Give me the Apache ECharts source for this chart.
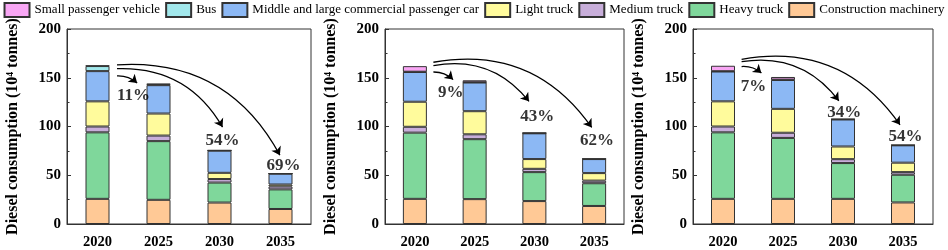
<!DOCTYPE html>
<html>
<head>
<meta charset="utf-8">
<script src="https://cdn.jsdelivr.net/npm/echarts@6/dist/echarts.min.js"></script>
<style>
  html, body { margin: 0; padding: 0; background: #fff; }
  #main { width: 948px; height: 250px; }
</style>
</head>
<body>
<div id="main"></div>
<script>
// categories
const years = ['2020', '2025', '2030', '2035'];
const seriesNames = ['Construction machinery', 'Heavy truck', 'Medium truck', 'Light truck',
  'Middle and large commercial passenger car', 'Bus', 'Small passenger vehicle'];
const legendOrder = ['Small passenger vehicle', 'Bus', 'Middle and large commercial passenger car',
  'Light truck', 'Medium truck', 'Heavy truck', 'Construction machinery'];

// panel 1
const constructionA = [25.8, 24.8, 22.0, 15.4];
const heavyA = [68.2, 60.2, 20.5, 20.1];
const mediumA = [6.0, 5.7, 3.6, 3.0];
const lightA = [25.8, 22.6, 6.4, 2.0];
const midLargeA = [31.0, 29.1, 22.7, 11.1];
const busA = [5.2, 0.7, 0.2, 0.1];
const smallA = [0.5, 0.7, 0.2, 0.1];
const reductionA = ['11%', '54%', '69%'];

// panel 2
const constructionB = [25.8, 25.5, 23.5, 18.5];
const heavyB = [67.9, 61.5, 29.7, 23.3];
const mediumB = [6.0, 5.0, 3.4, 2.7];
const lightB = [25.7, 23.7, 10.0, 7.7];
const midLargeB = [30.5, 29.4, 26.4, 14.4];
const busB = [0.3, 0.3, 0.2, 0.1];
const smallB = [5.7, 2.0, 0.2, 0.1];
const reductionB = ['9%', '43%', '62%'];

// panel 3
const constructionC = [25.8, 25.8, 25.8, 22.1];
const heavyC = [68.2, 62.5, 36.7, 28.4];
const mediumC = [6.0, 5.3, 4.0, 2.7];
const lightC = [25.8, 24.5, 13.0, 9.7];
const midLargeC = [30.6, 29.6, 27.7, 17.8];
const busC = [0.3, 0.4, 0.2, 0.1];
const smallC = [5.6, 2.7, 0.2, 0.1];
const reductionC = ['7%', '34%', '54%'];

// y axis ticks
const yTicks = [0, 50, 100, 150, 200];

const colors = ['#FFC996', '#7FD79B', '#C8AEDA', '#FFFB9C', '#8CB8F4', '#A2E8EC', '#F8A6F4'];

// annotation placement (category index / value units) : arrows and % labels
const arrowPos = [
  [[[0.32, 151.9], [0.65, 144.6], 0.2], [[0.32, 159.3], [2.05, 99.4], 0.3], [[0.32, 163.3], [2.99, 70.6], 0.32]],
  [[[0.31, 155.9], [0.64, 148.1], 0.2], [[0.31, 162.5], [1.91, 125.8], 0.3], [[0.31, 165.9], [2.96, 99.0], 0.32]],
  [[[0.31, 161.5], [0.64, 154.9], 0.2], [[0.31, 166.5], [1.93, 126.4], 0.3], [[0.31, 168.9], [2.95, 101.7], 0.32]]
];
const labelPos = [
  [[0.59, 131.2], [2.05, 85.7], [3.05, 59.6]],
  [[0.60, 135.1], [2.05, 109.7], [3.05, 85.7]],
  [[0.51, 140.8], [2.02, 114.7], [3.04, 90.0]]
];

const panels = [
  { data: [constructionA, heavyA, mediumA, lightA, midLargeA, busA, smallA], red: reductionA, left: 67, right: 637 },
  { data: [constructionB, heavyB, mediumB, lightB, midLargeB, busB, smallB], red: reductionB, left: 385, right: 324 },
  { data: [constructionC, heavyC, mediumC, lightC, midLargeC, busC, smallC], red: reductionC, left: 693, right: 15 }
];

const font = 'Liberation Serif';
const axisColor = '#333';

const grid = [], xAxis = [], yAxis = [], series = [];

panels.forEach(function (p, i) {
  grid.push({ left: p.left, right: p.right, top: 29, bottom: 21, show: true,
    borderColor: axisColor, borderWidth: 1, backgroundColor: 'transparent' });
  xAxis.push({
    type: 'category', gridIndex: i, data: years, boundaryGap: true,
    axisLine: { lineStyle: { color: axisColor, width: 1 } },
    axisTick: { inside: true, alignWithLabel: true, length: 3, lineStyle: { color: axisColor } },
    axisLabel: { color: '#000', fontFamily: font, fontWeight: 'bold', fontSize: 14.5, margin: 11 }
  });
  yAxis.push({
    type: 'value', gridIndex: i, min: yTicks[0], max: yTicks[yTicks.length - 1], interval: yTicks[1] - yTicks[0],
    name: 'Diesel consumption (10\u2074 tonnes)', nameLocation: 'middle', nameGap: 46,
    nameTextStyle: { color: '#000', fontFamily: font, fontWeight: 'bold', fontSize: 16 },
    axisLine: { show: true, onZero: false, lineStyle: { color: axisColor, width: 1 } },
    axisTick: { show: true, inside: true, length: 4, lineStyle: { color: axisColor } },
    minorTick: { show: true, splitNumber: 2, length: 2.5, lineStyle: { color: axisColor } },
    splitLine: { show: false },
    axisLabel: { color: '#000', fontFamily: font, fontWeight: 'bold', fontSize: 15, margin: 6 }
  });
});
// hidden value axes for annotations
panels.forEach(function (p, i) {
  xAxis.push({ type: 'value', gridIndex: i, min: -0.5, max: 3.5, show: false });
});

panels.forEach(function (p, i) {
  p.data.forEach(function (vals, k) {
    series.push({
      name: seriesNames[k], type: 'bar', stack: 'p' + i,
      xAxisIndex: i, yAxisIndex: i, barWidth: 24,
      itemStyle: { color: colors[k], borderColor: axisColor, borderWidth: 1 },
      data: vals
    });
  });
  series.push({
    type: 'lines', coordinateSystem: 'cartesian2d', xAxisIndex: 3 + i, yAxisIndex: i,
    symbol: ['none', 'arrow'], symbolSize: [0, 8], silent: true, z: 5,
    lineStyle: { color: '#000', width: 1.3, opacity: 1 },
    data: arrowPos[i].map(function (a) {
      return { coords: [a[0], a[1]], lineStyle: { curveness: a[2] } };
    })
  });
  series.push({
    type: 'scatter', xAxisIndex: 3 + i, yAxisIndex: i, symbolSize: 0, silent: true, z: 6,
    label: { show: true, position: 'inside', formatter: function (q) { return q.value[2]; },
      color: '#000', fontFamily: font, fontWeight: 'bold', fontSize: 17 },
    data: labelPos[i].map(function (l, j) { return [l[0], l[1], p.red[j]]; })
  });
});

const chart = echarts.init(document.getElementById('main'), null, { renderer: 'canvas' });
chart.setOption({
  animation: false,
  legend: {
    data: legendOrder, top: 2, left: 'center', itemWidth: 25, itemHeight: 14, itemGap: 5,
    padding: 0, icon: 'rect',
    textStyle: { color: '#000', fontFamily: font, fontSize: 13 }
  },
  grid: grid,
  xAxis: xAxis,
  yAxis: yAxis,
  series: series
});
</script>
</body>
</html>
